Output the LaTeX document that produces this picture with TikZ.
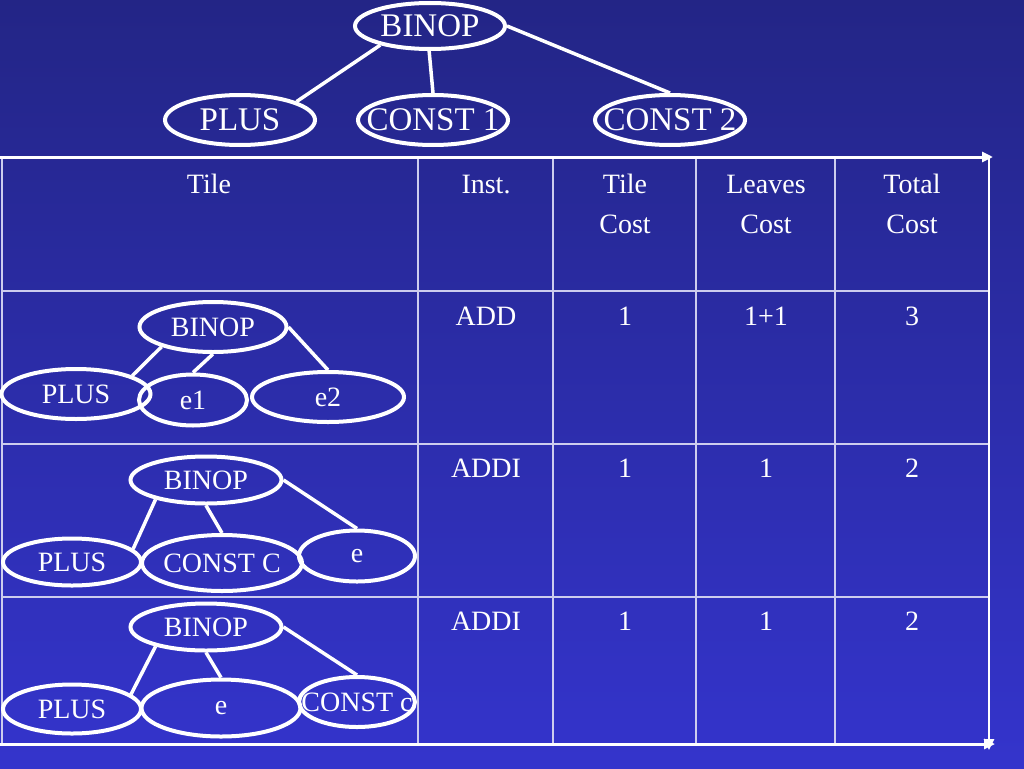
\documentclass[tikz,border=0pt]{standalone}
\usepackage{fontspec}
\setmainfont{Liberation Serif}
\usetikzlibrary{shapes.geometric,arrows.meta}
\definecolor{bgtop}{RGB}{35,37,134}
\definecolor{bgbot}{RGB}{52,52,204}
\definecolor{gridc}{RGB}{205,205,238}
\newcommand{\zb}[1]{\makebox[0pt][c]{#1}}
\begin{document}
\begin{tikzpicture}[x=1pt,y=-1pt,
  bigell/.style={ellipse, draw=white, line width=4pt, text=white, inner sep=0pt, font=\fontsize{33}{40}\selectfont},
  smell/.style={ellipse, draw=white, line width=4pt, text=white, inner sep=0pt, font=\fontsize{28}{34}\selectfont},
  treeedge/.style={draw=white, line width=3.5pt},
  gridline/.style={draw=gridc, line width=1.5pt},
  boldline/.style={draw=white, line width=3pt},
  tip/.style={-{Triangle[length=11pt,width=10pt]}},
  cell/.style={text=white, font=\fontsize{28}{34}\selectfont, anchor=base, inner sep=0pt}]
\shade[top color=bgtop, bottom color=bgbot] (0,0) rectangle (1024,768);
\useasboundingbox (0,0) rectangle (1024,768);

% top tree
\node[bigell, minimum width=150pt, minimum height=46pt] (binop) at (430,26) {\zb{BINOP}};
\node[bigell, minimum width=150pt, minimum height=50pt] (plus) at (240,120) {\zb{PLUS}};
\node[bigell, minimum width=150pt, minimum height=50pt] (const1) at (433,120) {\zb{CONST 1}};
\node[bigell, minimum width=150pt, minimum height=50pt] (const2) at (670,120) {\zb{CONST 2}};
\draw[treeedge] (binop.201) -- (plus.18);
\draw[treeedge] (binop.268) -- (const1.north);
\draw[treeedge] (binop.east) -- (const2.north);

% table grid
\draw[gridline] (2,158) -- (2,743);
\foreach \xx in {418,553,696,835} \draw[gridline] (\xx,158) -- (\xx,743);
\foreach \yy in {291,444,597} \draw[gridline] (2,\yy) -- (989,\yy);
\draw[boldline, tip] (0,157) -- (993,157);
\draw[boldline, line width=2.5pt, tip] (989,158) -- (989,750);
\draw[boldline, tip] (0,744) -- (995,744);

% header
\node[cell] (hTile) at (209,193) {Tile};
\node[cell] (hInst) at (486,193) {Inst.};
\node[cell] (hTc1) at (625,193) {Tile};
\node[cell] (hTc2) at (625,233) {Cost};
\node[cell] (hLc1) at (766,193) {Leaves};
\node[cell] (hLc2) at (766,233) {Cost};
\node[cell] (hTo1) at (912,193) {Total};
\node[cell] (hTo2) at (912,233) {Cost};

% row values
\node[cell] (r1a) at (486,325) {ADD};
\node[cell] (r1b) at (625,325) {1};
\node[cell] (r1c) at (766,325) {1+1};
\node[cell] (r1d) at (912,325) {3};
\node[cell] (r2a) at (486,477) {ADDI};
\node[cell] (r2b) at (625,477) {1};
\node[cell] (r2c) at (766,477) {1};
\node[cell] (r2d) at (912,477) {2};
\node[cell] (r3a) at (486,630) {ADDI};
\node[cell] (r3b) at (625,630) {1};
\node[cell] (r3c) at (766,630) {1};
\node[cell] (r3d) at (912,630) {2};

% row 1 tile
\node[smell, minimum width=147pt, minimum height=50pt] (b1) at (213,327) {\zb{BINOP}};
\node[smell, minimum width=149pt, minimum height=50pt] (p1) at (76,394) {\zb{PLUS}};
\node[smell, minimum width=108pt, minimum height=51pt] (e1) at (193,400) {\zb{e1}};
\node[smell, minimum width=152pt, minimum height=50pt] (e2) at (328,397) {\zb{e2}};
\draw[treeedge] (b1.201) -- (p1.18);
\draw[treeedge] (b1.south) -- (e1.north);
\draw[treeedge] (b1.east) -- (e2.north);

% row 2 tile
\node[smell, minimum width=151pt, minimum height=47pt] (b2) at (206,480) {\zb{BINOP}};
\node[smell, minimum width=138pt, minimum height=47pt] (p2) at (72,562) {\zb{PLUS}};
\node[smell, minimum width=160pt, minimum height=56pt] (c2) at (222,563) {\zb{CONST C}};
\node[smell, minimum width=116pt, minimum height=51pt] (eb) at (357,556) {\zb{e}};
\draw[treeedge] (b2.201) -- (p2.12);
\draw[treeedge] (b2.south) -- (c2.north);
\draw[treeedge] (b2.east) -- (eb.north);

% row 3 tile
\node[smell, minimum width=151pt, minimum height=47pt] (b3) at (206,627) {\zb{BINOP}};
\node[smell, minimum width=138pt, minimum height=49pt] (p3) at (72,709) {\zb{PLUS}};
\node[smell, minimum width=159pt, minimum height=57pt] (e3) at (221,708) {\zb{e}};
\node[smell, minimum width=116pt, minimum height=50pt] (c3) at (357,702) {\zb{CONST c}};
\draw[treeedge] (b3.201) -- (p3.14);
\draw[treeedge] (b3.south) -- (e3.north);
\draw[treeedge] (b3.east) -- (c3.north);
\end{tikzpicture}
\end{document}
